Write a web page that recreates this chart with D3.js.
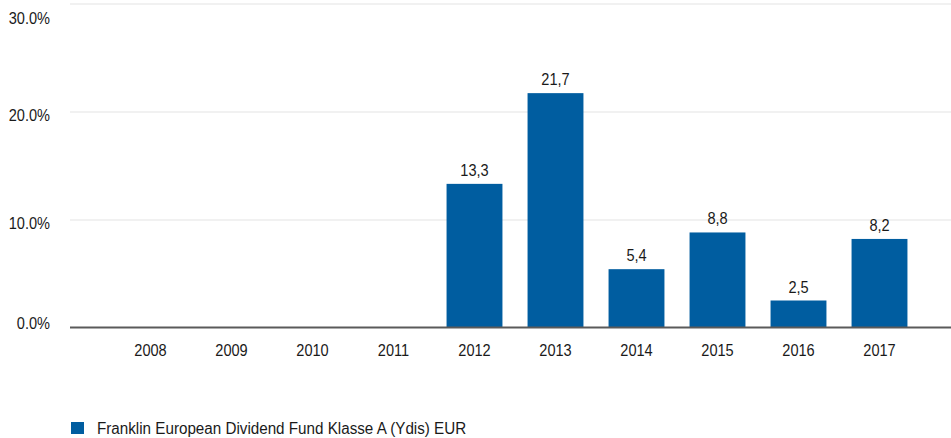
<!DOCTYPE html>
<html>
<head>
<meta charset="utf-8">
<script src="https://cdn.jsdelivr.net/npm/d3@7"></script>
<style>
  html, body { margin: 0; padding: 0; background: #fff; }
  svg { display: block; font-family: "Liberation Sans", Arial, sans-serif; }
</style>
</head>
<body>
<svg id="chart" width="951" height="438"></svg>
<script>
const years = ["2008","2009","2010","2011","2012","2013","2014","2015","2016","2017"];
const values = [null, null, null, null, 13.3, 21.7, 5.4, 8.8, 2.5, 8.2];
const yTicks = [0, 10, 20, 30];
const seriesName = "Franklin European Dividend Fund Klasse A (Ydis) EUR";

const W = 951, H = 438;
const plotLeft = 70, plotRight = 951;
const barColor = "#005da0";
const textColor = "#1a1a1a";
const squeeze = 0.91;
const legendSqueeze = 0.95;

const svg = d3.select("#chart");

const x = d3.scaleBand().domain(years).range([110, 920]).paddingInner(0.31).paddingOuter(0.155);
const y = d3.scaleLinear().domain([0, 30]).range([327.5, 3.5]);

// gridlines
const yAxis = d3.axisLeft(y).tickValues(yTicks).tickSize(-(plotRight - plotLeft)).tickFormat(d => d.toFixed(1) + "%");
const gy = svg.append("g").attr("transform", `translate(${plotLeft},0)`).call(yAxis);
gy.select(".domain").remove();
gy.selectAll(".tick line").attr("stroke", "#e3e3e3").attr("stroke-width", 1)
  .filter(d => d === 0).remove();
gy.selectAll(".tick text")
  .attr("class", "sq")
  .attr("x", -20).attr("text-anchor", "end")
  .attr("fill", textColor).style("font-size", "16px")
  .attr("dy", null)
  .attr("y", function(d) {
    const c = Math.min(Math.max(y(d) + 3, 17.5), 322) - y(d);
    return c + 6;
  });

// bars
const data = years.map((yr, i) => ({year: yr, value: values[i]})).filter(d => d.value !== null);
svg.append("g").selectAll("rect").data(data).join("rect")
  .attr("x", d => x(d.year))
  .attr("width", x.bandwidth())
  .attr("y", d => y(d.value))
  .attr("height", d => y(0) - y(d.value))
  .attr("fill", barColor);

// zero line
svg.append("line")
  .attr("x1", plotLeft).attr("x2", plotRight)
  .attr("y1", y(0)).attr("y2", y(0))
  .attr("stroke", "#5a5a5a").attr("stroke-width", 2);

// value labels
svg.append("g").selectAll("text").data(data).join("text")
  .attr("class", "sq")
  .attr("x", d => x(d.year) + x.bandwidth() / 2)
  .attr("y", d => y(d.value) - 8)
  .attr("text-anchor", "middle")
  .attr("fill", textColor).style("font-size", "16px")
  .text(d => d.value.toFixed(1).replace(".", ","));

// x axis labels
const xAxis = d3.axisBottom(x).tickSize(0).tickPadding(0);
const gx = svg.append("g").attr("transform", `translate(0,${y(0)})`).call(xAxis);
gx.select(".domain").remove();
gx.selectAll(".tick text").attr("class", "sq").attr("dy", null).attr("y", 28)
  .attr("fill", textColor).style("font-size", "16px");
svg.selectAll("g").attr("font-family", null).attr("font-size", null);

// legend
const lg = svg.append("g");
lg.append("rect").attr("x", 71).attr("y", 422).attr("width", 13).attr("height", 12).attr("fill", barColor);
lg.append("text").attr("class", "lg").attr("x", 97).attr("y", 434).attr("fill", textColor).style("font-size", "16px")
  .attr("text-anchor", "start").text(seriesName);

// slightly condensed text like the reference
function condense(sel, k) {
  sel.each(function() {
    const len = this.getComputedTextLength();
    if (len > 0) {
      d3.select(this).attr("textLength", (len * k).toFixed(2)).attr("lengthAdjust", "spacingAndGlyphs");
    }
  });
}
condense(svg.selectAll("text.sq"), squeeze);
condense(svg.selectAll("text.lg"), legendSqueeze);
</script>
</body>
</html>
